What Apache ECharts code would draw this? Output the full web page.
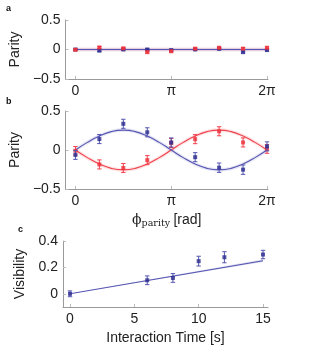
<!DOCTYPE html>
<html><head><meta charset="utf-8">
<script src="https://cdn.jsdelivr.net/npm/echarts@6/dist/echarts.min.js"></script>
<style>html,body{margin:0;padding:0;background:#fff}#c{width:323px;height:356px}</style>
</head><body><div id="c"></div>
<script>
// ---- data ----
var phaseFrac = [0, 0.25, 0.5, 0.75, 1, 1.25, 1.5, 1.75, 2]; // in units of pi
var aRed = [-0.005, 0.035, 0.02, -0.045, -0.03, 0.015, 0.03, 0.015, 0.03];
var aBlue = [0, -0.02, 0, 0, -0.01, 0, 0.01, -0.045, -0.01];
var aErr = [0.015, 0.015, 0.015, 0.015, 0.015, 0.015, 0.015, 0.015, 0.015];
var bBlue = [-0.063, 0.14, 0.336, 0.227, 0.097, -0.092, -0.227, -0.252, 0.046];
var bBlueErr = [0.057, 0.058, 0.058, 0.058, 0.058, 0.058, 0.06, 0.06, 0.058];
var bRed = [-0.01, -0.185, -0.231, -0.13, 0.09, 0.139, 0.24, 0.097, 0.013];
var bRedErr = [0.055, 0.058, 0.058, 0.058, 0.058, 0.058, 0.058, 0.058, 0.055];
var fitFrac = [0, 0.125, 0.25, 0.375, 0.5, 0.625, 0.75, 0.875, 1, 1.125, 1.25, 1.375, 1.5, 1.625, 1.75, 1.875, 2];
var bBlueFit = [0, 0.098, 0.180, 0.236, 0.255, 0.236, 0.180, 0.098, 0, -0.098, -0.180, -0.236, -0.255, -0.236, -0.180, -0.098, 0];
var bRedFit = [0, -0.098, -0.180, -0.236, -0.255, -0.236, -0.180, -0.098, 0, 0.098, 0.180, 0.236, 0.255, 0.236, 0.180, 0.098, 0];
var cTime = [0, 6, 8, 10, 12, 15];
var cVis = [0, 0.1025, 0.12, 0.2475, 0.277, 0.2975];
var cErr = [0.022, 0.033, 0.033, 0.037, 0.042, 0.032];
var cFitX = [0, 15];
var cFitY = [0, 0.25];
var cBandLo = [0, 0.24];
var cBandHi = [0, 0.262];
var phaseTicks = [0, 1, 2]; // in units of pi
var phaseTickLabels = ['0', 'π', '2π'];
var parityTicks = [-0.5, 0, 0.5];
var visTicks = [0, 0.2, 0.4];
var timeTicks = [0, 5, 10, 15];

// ---- build ----
var PI = Math.PI;
var FONT = 'Liberation Sans';
var BLUE = '#2b2b8e', BLUE_L = '#5555b2', RED = '#ec2f3b', RED_L = '#f0424d';
function pts(xs, ys, scale) { return xs.map(function (x, i) { return [x * (scale || 1), ys[i]]; }); }
function errData(xs, ys, es, scale) { return xs.map(function (x, i) { return [x * (scale || 1), ys[i], es[i]]; }); }
function fmtNum(v) { var s = String(Math.round(v * 100) / 100); return s.replace('-', '−'); }

function errSeries(data, xi, color, z) {
  return {
    type: 'custom', xAxisIndex: xi, yAxisIndex: xi, z: z, data: data, silent: true,
    renderItem: function (params, api) {
      var x = api.value(0), y = api.value(1), e = api.value(2);
      var p1 = api.coord([x, y + e]), p2 = api.coord([x, y - e]);
      var w = 2.2;
      var st = { stroke: color, lineWidth: 1 };
      return { type: 'group', children: [
        { type: 'line', shape: { x1: p1[0], y1: p1[1], x2: p2[0], y2: p2[1] }, style: st },
        { type: 'line', shape: { x1: p1[0] - w, y1: p1[1], x2: p1[0] + w, y2: p1[1] }, style: st },
        { type: 'line', shape: { x1: p2[0] - w, y1: p2[1], x2: p2[0] + w, y2: p2[1] }, style: st }
      ] };
    }
  };
}
function scatter(data, xi, color, z) {
  return { type: 'scatter', xAxisIndex: xi, yAxisIndex: xi, z: z, data: data, symbol: 'rect', symbolSize: 4,
    itemStyle: { color: color }, silent: true };
}
function fitLine(data, xi, color, z, smooth) {
  return [
    { type: 'line', xAxisIndex: xi, yAxisIndex: xi, z: z, data: data, smooth: smooth, symbol: 'none', silent: true,
      lineStyle: { color: color, width: 3.5, opacity: 0.15 } },
    { type: 'line', xAxisIndex: xi, yAxisIndex: xi, z: z + 0.1, data: data, smooth: smooth, symbol: 'none', silent: true,
      lineStyle: { color: color, width: 1.1 } }
  ];
}

var axisLineStyle = { show: true, onZero: false, lineStyle: { color: '#9a9a9a', width: 1 } };
var tickStyle = { show: true, inside: true, length: 3, lineStyle: { color: '#bbbbbb' } };
var labelBase = { color: '#222', fontFamily: FONT, fontSize: 14 };
var xmin = -10 / 30.88, xmax = 2 * PI + 1 / 30.88;

function phaseX(gi, showName) {
  var ax = {
    type: 'value', gridIndex: gi, min: xmin, max: xmax, splitLine: { show: false },
    axisLine: axisLineStyle,
    axisTick: Object.assign({ customValues: phaseTicks.map(function (v) { return v * PI; }) }, tickStyle),
    axisLabel: Object.assign({ margin: 5, customValues: phaseTicks.map(function (v) { return v * PI; }),
      formatter: function (v) { var k = Math.round(v / PI); return phaseTickLabels[phaseTicks.indexOf(k)]; } }, labelBase)
  };
  if (showName) {
    ax.name = '{phi|ϕ}{sub|parity} {r|[rad]}';
    ax.nameLocation = 'middle';
    ax.nameGap = 24;
    ax.nameTextStyle = { rich: {
      phi: { fontFamily: 'DejaVu Serif', fontSize: 14, color: '#222', verticalAlign: 'top' },
      sub: { fontFamily: 'DejaVu Serif', fontSize: 9.5, color: '#222', verticalAlign: 'bottom', padding: [6, 0, 0, 0] },
      r: { fontFamily: FONT, fontSize: 14, color: '#222', verticalAlign: 'top' }
    } };
  }
  return ax;
}
function parityY(gi) {
  return {
    type: 'value', gridIndex: gi, min: -0.5, max: 0.5, splitLine: { show: false },
    axisLine: axisLineStyle,
    axisTick: Object.assign({ customValues: parityTicks }, tickStyle),
    axisLabel: Object.assign({ margin: 5, customValues: parityTicks, formatter: fmtNum }, labelBase),
    name: 'Parity', nameLocation: 'middle', nameGap: 40, nameRotate: 90,
    nameTextStyle: { fontFamily: FONT, fontSize: 14, color: '#222' }
  };
}

var series = [];
// panel a
series = series.concat(fitLine([[0, 0], [2 * PI, 0]], 0, RED_L, 2, false));
series = series.concat(fitLine([[0, 0], [2 * PI, 0]], 0, BLUE_L, 3, false));
series.push(errSeries(errData(phaseFrac, aBlue, aErr, PI), 0, BLUE_L, 4));
series.push(scatter(pts(phaseFrac, aBlue, PI), 0, BLUE, 5));
series.push(errSeries(errData(phaseFrac, aRed, aErr, PI), 0, RED_L, 6));
series.push(scatter(pts(phaseFrac, aRed, PI), 0, RED, 7));
// panel b
series = series.concat(fitLine(pts(fitFrac, bRedFit, PI), 1, RED_L, 2, true));
series = series.concat(fitLine(pts(fitFrac, bBlueFit, PI), 1, BLUE_L, 3, true));
series.push(errSeries(errData(phaseFrac, bRed, bRedErr, PI), 1, RED_L, 4));
series.push(scatter(pts(phaseFrac, bRed, PI), 1, RED, 5));
series.push(errSeries(errData(phaseFrac, bBlue, bBlueErr, PI), 1, BLUE_L, 6));
series.push(scatter(pts(phaseFrac, bBlue, PI), 1, BLUE, 7));
// panel c
series.push({
  type: 'custom', xAxisIndex: 2, yAxisIndex: 2, z: 2, data: [0], silent: true,
  renderItem: function (params, api) {
    var poly = [];
    cFitX.forEach(function (x, i) { poly.push(api.coord([x, cBandHi[i]])); });
    for (var i = cFitX.length - 1; i >= 0; i--) poly.push(api.coord([cFitX[i], cBandLo[i]]));
    return { type: 'polygon', shape: { points: poly }, style: { fill: BLUE_L, opacity: 0.2 } };
  }
});
series.push({ type: 'line', xAxisIndex: 2, yAxisIndex: 2, z: 3, data: pts(cFitX, cFitY), symbol: 'none', silent: true,
  lineStyle: { color: BLUE_L, width: 1.1 } });
series.push(errSeries(errData(cTime, cVis, cErr), 2, BLUE_L, 4));
series.push(scatter(pts(cTime, cVis), 2, BLUE, 5));

var option = {
  animation: false,
  grid: [
    { left: 63, top: 20, width: 205, height: 59 },
    { left: 63, top: 111, width: 205, height: 78 },
    { left: 63, top: 241, width: 205, height: 66 }
  ],
  xAxis: [
    phaseX(0, false),
    phaseX(1, true),
    {
      type: 'value', gridIndex: 2, min: -7 / 12.87, max: 15 + 5 / 12.87, splitLine: { show: false },
      axisLine: axisLineStyle,
      axisTick: Object.assign({ customValues: timeTicks }, tickStyle),
      axisLabel: Object.assign({ margin: 5, customValues: timeTicks }, labelBase),
      name: 'Interaction Time [s]', nameLocation: 'middle', nameGap: 24,
      nameTextStyle: { fontFamily: FONT, fontSize: 14, color: '#222' }
    }
  ],
  yAxis: [
    parityY(0),
    parityY(1),
    {
      type: 'value', gridIndex: 2, min: -0.1, max: 0.4, splitLine: { show: false },
      axisLine: axisLineStyle,
      axisTick: Object.assign({ customValues: visTicks }, tickStyle),
      axisLabel: Object.assign({ margin: 5, customValues: visTicks, formatter: fmtNum }, labelBase),
      name: 'Visibility', nameLocation: 'middle', nameGap: 33, nameRotate: 90,
      nameTextStyle: { fontFamily: FONT, fontSize: 14, color: '#222' }
    }
  ],
  graphic: [
    { type: 'text', left: 6, top: 4, style: { text: 'a', font: 'bold 9px ' + FONT, fill: '#111' } },
    { type: 'text', left: 6, top: 97, style: { text: 'b', font: 'bold 9px ' + FONT, fill: '#111' } },
    { type: 'text', left: 18, top: 225, style: { text: 'c', font: 'bold 9px ' + FONT, fill: '#111' } }
  ],
  series: series
};
var chart = echarts.init(document.getElementById('c'), null, { renderer: 'canvas' });
chart.setOption(option);
</script></body></html>
